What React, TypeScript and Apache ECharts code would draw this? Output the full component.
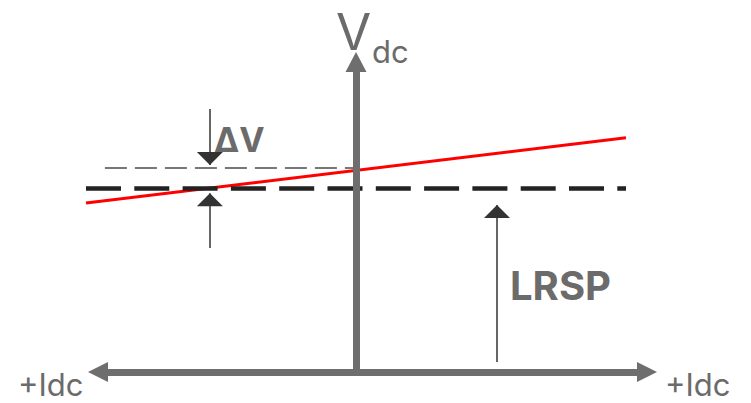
import React, { useEffect, useRef } from "react";
import * as echarts from "echarts";

// Operating characteristic: current on the horizontal axis, DC voltage vertical.
const X_RANGE = [-0.86, 0.97];
const Y_RANGE = [0, 1];

// Voltage vs. current droop characteristic (red)
const DROOP_LINE: [number, number][] = [
  [-0.9, 0.545],
  [0.9, 0.756],
];
// LRSP reference level (heavy dashed)
const LRSP_LEVEL: [number, number][] = [
  [-0.9, 0.594],
  [0.9, 0.594],
];
// Voltage at zero current (light dashed)
const ZERO_CURRENT_LEVEL: [number, number][] = [
  [-0.837, 0.658],
  [0, 0.658],
];
// Dimension arrows: [from, to], arrow head at "to"
const DELTA_V_TOP: [number, number][] = [
  [-0.487, 0.848],
  [-0.487, 0.668],
];
const DELTA_V_BOTTOM: [number, number][] = [
  [-0.487, 0.4],
  [-0.487, 0.577],
];
const LRSP_ARROW: [number, number][] = [
  [0.47, 0.032],
  [0.47, 0.539],
];

// Triangle whose tip sits at the symbol's anchor point
const ARROW_HEAD = "path://M0,13L6,26L-6,26ZM0,0";

const AXIS_COLOR = "#6e6e6e";
const TEXT_COLOR = "#6b6b6b";
const FONT = "Inter";

function label(text: string, x: number, y: number, size: number, bold = false) {
  return {
    type: "text",
    x,
    y,
    style: {
      text,
      fill: TEXT_COLOR,
      font: `${bold ? "bold " : ""}${size}px ${FONT}`,
      lineHeight: size,
      textAlign: "left",
      textVerticalAlign: "middle",
    },
  };
}

function segment(coords: [number, number][], z: number, lineStyle: object) {
  return {
    type: "lines",
    coordinateSystem: "cartesian2d",
    clip: false,
    z,
    symbol: "none",
    lineStyle: { opacity: 1, ...lineStyle },
    data: [{ coords }],
  };
}

export default function App() {
  const ref = useRef<HTMLDivElement>(null);

  useEffect(() => {
    if (!ref.current) return;
    const chart = echarts.init(ref.current, null, { renderer: "svg" });

    const axisCommon = {
      type: "value" as const,
      z: 10,
      splitLine: { show: false },
      axisTick: { show: false },
      axisLabel: { show: false },
    };

    chart.setOption({
      animation: false,
      backgroundColor: "#ffffff",
      grid: { left: 98, right: 104, top: 62, bottom: 31 },
      xAxis: {
        ...axisCommon,
        min: X_RANGE[0],
        max: X_RANGE[1],
        axisLine: {
          show: true,
          symbol: ["triangle", "triangle"],
          symbolSize: [20, 20],
          lineStyle: { color: AXIS_COLOR, width: 7 },
        },
      },
      yAxis: {
        ...axisCommon,
        min: Y_RANGE[0],
        max: Y_RANGE[1],
        axisLine: {
          show: true,
          onZero: true,
          symbol: ["none", "triangle"],
          symbolSize: [21, 20],
          lineStyle: { color: AXIS_COLOR, width: 7 },
        },
      },
      series: [
        segment(DROOP_LINE, 2, { color: "#ff0000", width: 3 }),
        segment(LRSP_LEVEL, 3, {
          color: "#222222",
          width: 4.5,
          type: [35, 13.3],
        }),
        segment(ZERO_CURRENT_LEVEL, 3, {
          color: "#777777",
          width: 2,
          type: [22, 8],
        }),
        {
          type: "lines",
          coordinateSystem: "cartesian2d",
          clip: false,
          z: 4,
          symbol: ["none", ARROW_HEAD],
          symbolSize: [12, 26],
          lineStyle: { color: "#333333", width: 1.5, opacity: 1 },
          data: [DELTA_V_TOP, DELTA_V_BOTTOM, LRSP_ARROW].map((coords) => ({
            coords,
          })),
        },
      ],
      graphic: [
        label("V", 336, 31, 51),
        label("dc", 372, 51, 31),
        label("+Idc", 18, 384, 31),
        label("+Idc", 665, 384, 31),
        label("ΔV", 214, 139, 34, true),
        label("LRSP", 510, 285, 40, true),
      ],
    });

    return () => chart.dispose();
  }, []);

  return (
    <div
      ref={ref}
      style={{ position: "fixed", left: 0, top: 0, width: 751, height: 403 }}
    />
  );
}
